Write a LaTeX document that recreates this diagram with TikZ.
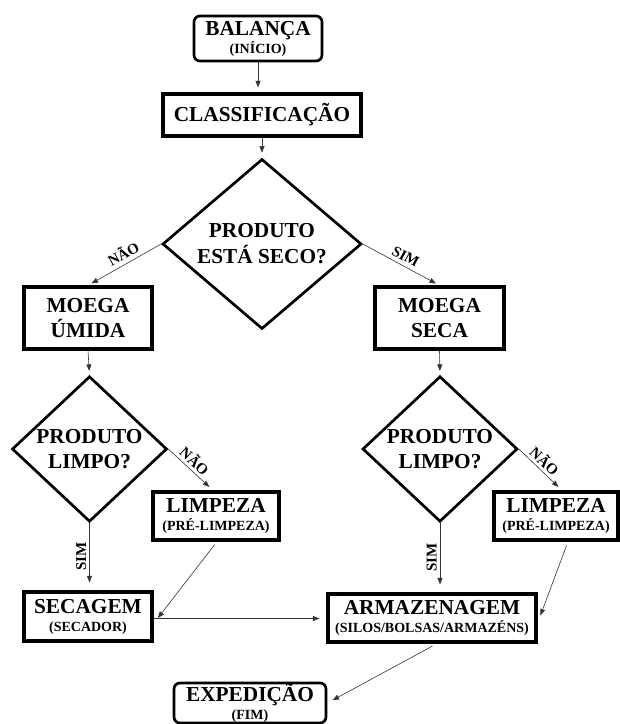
\documentclass[tikz,border=0pt]{standalone}
\usepackage{fontspec}
\setmainfont{Liberation Serif}
\usetikzlibrary{shapes.geometric,arrows.meta}

\newcommand{\grande}{\fontsize{21.3}{25}\selectfont}
\newcommand{\pequeno}{\fontsize{14}{16}\selectfont}

\tikzset{
  caixa/.style={draw, line width=3.2pt, align=center, inner sep=0pt, font=\bfseries\grande},
  terminal/.style={caixa, rounded corners=6pt, line width=2.7pt},
  decisao/.style={draw, diamond, line width=2.7pt, inner sep=0pt, align=center, font=\bfseries\grande},
  seta/.style={-{Triangle[length=6.5pt,width=5pt]}, line width=0.6pt, draw=black!80},
  rotulo/.style={font=\bfseries\fontsize{15}{17}\selectfont, inner sep=1pt, text=black},
}

\begin{document}
\begin{tikzpicture}[x=1pt, y=-1pt]
    \useasboundingbox (0,0) rectangle (620,724);

    % inicio
    \node[terminal, minimum width=128pt, minimum height=45pt] (balanca) at (258,38.5)
        {BALANÇA\\[-7pt]{\pequeno (INÍCIO)}};
    \node[caixa, minimum width=198pt, minimum height=42pt] (classif) at (262,115) {CLASSIFICAÇÃO};
    \node[decisao, minimum width=199pt, minimum height=148pt] (seco) at (262,244)
        {PRODUTO\\[1pt]ESTÁ SECO?};

    % moegas
    \node[caixa, minimum width=128pt, minimum height=62pt] (moega_umida) at (88,318) {MOEGA\\ÚMIDA};
    \node[caixa, minimum width=129pt, minimum height=62pt] (moega_seca) at (439.5,318) {MOEGA\\SECA};

    % limpeza
    \node[decisao, minimum width=155pt, minimum height=133pt] (limpo_u) at (89.5,449)
        {PRODUTO\\LIMPO?};
    \node[decisao, minimum width=155pt, minimum height=133pt] (limpo_s) at (440,449)
        {PRODUTO\\LIMPO?};
    \node[caixa, minimum width=126pt, minimum height=48pt] (limpeza_u) at (216,516)
        {LIMPEZA\\[-7pt]{\pequeno (PRÉ-LIMPEZA)}};
    \node[caixa, minimum width=124pt, minimum height=48pt] (limpeza_s) at (556,516)
        {LIMPEZA\\[-7pt]{\pequeno (PRÉ-LIMPEZA)}};

    % secagem e armazenagem
    \node[caixa, minimum width=128pt, minimum height=49pt] (secagem) at (88,616.5)
        {SECAGEM\\[-7pt]{\pequeno (SECADOR)}};
    \node[caixa, minimum width=208pt, minimum height=48pt] (armazenagem) at (432,618)
        {ARMAZENAGEM\\[-7pt]{\pequeno (SILOS/BOLSAS/ARMAZÉNS)}};
    \node[terminal, minimum width=152pt, minimum height=40pt] (expedicao) at (250,703)
        {EXPEDIÇÃO\\[-7pt]{\pequeno (FIM)}};

    % setas
    \draw[seta, shorten >=5pt] (balanca.south) -- (balanca.south |- classif.north);
    \draw[seta, shorten >=5pt] (classif.south) -- (seco.north);
    \draw[seta, shorten >=4pt] (seco.west) -- node[rotulo, sloped, above=3pt, pos=0.45]{NÃO} (moega_umida.north);
    \draw[seta, shorten >=4pt] (seco.east) -- node[rotulo, sloped, above=3pt]{SIM} (moega_seca.north);
    \draw[seta, shorten >=4pt] (moega_umida.south) -- (limpo_u.north);
    \draw[seta, shorten >=4pt] (moega_seca.south) -- (limpo_s.north);

    \draw[seta, shorten >=5pt] (limpo_u.east) -- node[rotulo, sloped, above=2pt, pos=0.45]{NÃO} ([xshift=-3pt]limpeza_u.north);
    \draw[seta, shorten >=5pt] (limpo_s.east) -- node[rotulo, sloped, above=2pt, pos=0.45]{NÃO} ([xshift=6pt]limpeza_s.north);
    \draw[seta, shorten >=8pt] (limpo_u.south) -- node[rotulo, anchor=south, rotate=90, inner sep=3pt]{SIM} (limpo_u.south |- secagem.north);
    \draw[seta, shorten >=8pt] (limpo_s.south) -- node[rotulo, anchor=south, rotate=90, inner sep=3pt]{SIM} (limpo_s.south |- armazenagem.north);

    \draw[seta, shorten <=4pt, shorten >=7pt] ([xshift=1pt]limpeza_u.south) -- ([yshift=-7pt]secagem.east);
    \draw[seta, shorten <=4pt, shorten >=8pt] ([xshift=12pt]limpeza_s.south) -- ([yshift=-5pt]armazenagem.east);
    \draw[seta, shorten >=7pt] ([yshift=-2pt]secagem.east) -- ([yshift=-2pt]secagem.east -| armazenagem.west);
    \draw[seta, shorten <=5pt, shorten >=6pt] ([xshift=5pt]armazenagem.south) -- (expedicao.east);
\end{tikzpicture}
\end{document}
